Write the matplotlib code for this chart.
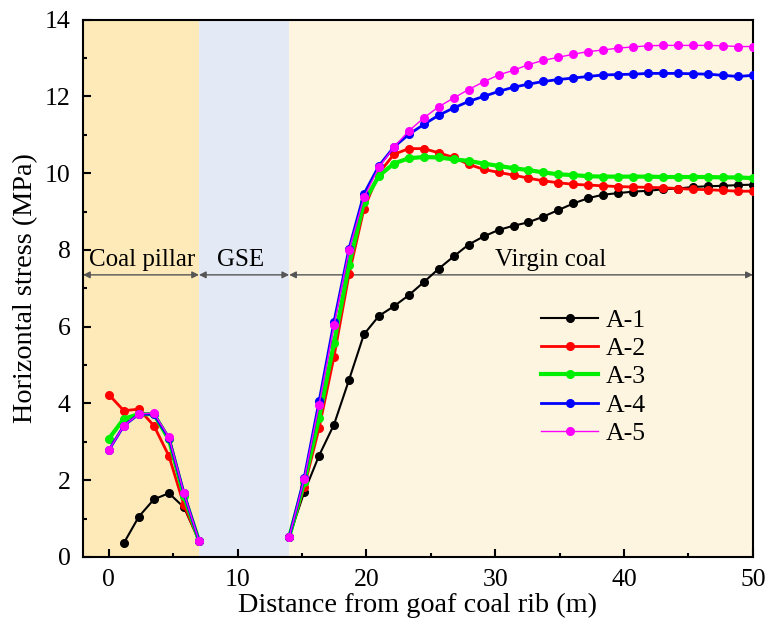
import numpy as np
import matplotlib.pyplot as plt

plt.rcParams['font.family'] = ['Liberation Serif', 'DejaVu Serif']
plt.rcParams['mathtext.fontset'] = 'stix'

# Datos leidos de la figura
# pilar de carbon (0 - 7 m)
x_pilar = np.linspace(0, 7, 7)
pilar = {
    'A-1': [np.nan, 0.36, 1.05, 1.50, 1.66, 1.29, 0.42],
    'A-2': [4.23, 3.81, 3.85, 3.42, 2.63, 1.35, 0.42],
    'A-3': [3.08, 3.60, 3.72, 3.72, 3.06, 1.59, 0.42],
    'A-4': [2.78, 3.42, 3.72, 3.72, 3.10, 1.66, 0.42],
    'A-5': [2.78, 3.42, 3.72, 3.75, 3.12, 1.66, 0.42],
}

# carbon virgen (14 - 50 m)
x_virgen = np.linspace(14, 50, 32)
virgen = {
    'A-1': [0.51, 1.68, 2.64, 3.45, 4.61, 5.80, 6.28, 6.53, 6.82, 7.16, 7.51,
            7.83, 8.14, 8.35, 8.52, 8.63, 8.72, 8.87, 9.04, 9.21, 9.35, 9.44,
            9.48, 9.52, 9.54, 9.58, 9.60, 9.64, 9.66, 9.67, 9.69, 9.70],
    'A-2': [0.51, 1.81, 3.36, 5.22, 7.36, 9.07, 10.00, 10.49, 10.64, 10.64,
            10.53, 10.41, 10.23, 10.10, 10.02, 9.95, 9.87, 9.80, 9.75, 9.71,
            9.69, 9.67, 9.65, 9.64, 9.63, 9.62, 9.60, 9.58, 9.57, 9.55, 9.53,
            9.53],
    'A-3': [0.51, 1.94, 3.62, 5.57, 7.60, 9.24, 9.93, 10.25, 10.39, 10.42,
            10.41, 10.36, 10.32, 10.25, 10.19, 10.13, 10.08, 10.02, 9.97, 9.95,
            9.92, 9.91, 9.91, 9.91, 9.91, 9.90, 9.90, 9.90, 9.90, 9.89, 9.89,
            9.87],
    'A-4': [0.51, 2.05, 4.05, 6.13, 8.03, 9.46, 10.19, 10.68, 11.01, 11.27,
            11.51, 11.70, 11.87, 12.00, 12.13, 12.24, 12.32, 12.39, 12.44,
            12.48, 12.52, 12.56, 12.57, 12.58, 12.60, 12.60, 12.60, 12.59,
            12.58, 12.55, 12.52, 12.55],
    'A-5': [0.51, 2.02, 3.97, 6.04, 7.99, 9.37, 10.15, 10.68, 11.10, 11.44,
            11.73, 11.96, 12.18, 12.38, 12.56, 12.68, 12.83, 12.94, 13.02,
            13.10, 13.17, 13.21, 13.26, 13.29, 13.32, 13.33, 13.33, 13.33,
            13.33, 13.32, 13.30, 13.30],
}

series = ['A-1', 'A-2', 'A-3', 'A-4', 'A-5']
colores = {'A-1': 'black', 'A-2': '#FF0000', 'A-3': '#00EE00',
           'A-4': '#0000FF', 'A-5': '#FF00FF'}
grosor = {'A-1': 1.5, 'A-2': 2.0, 'A-3': 3.0, 'A-4': 2.0, 'A-5': 1.0}

fig = plt.figure(figsize=(7.69, 6.35), dpi=100)
ax = fig.add_axes([0.108, 0.123, 0.871, 0.846])

# Zonas de fondo
ax.axvspan(-2, 7, color='#FDEAB8', zorder=0, lw=0)
ax.axvspan(7, 14, color='#E4EAF5', zorder=0, lw=0)
ax.axvspan(14, 50, color='#FDF5E0', zorder=0, lw=0)

for s in series:
    ax.plot(x_pilar, pilar[s], color=colores[s], lw=grosor[s], marker='o',
            markersize=5.5, zorder=3)
    ax.plot(x_virgen, virgen[s], color=colores[s], lw=grosor[s], marker='o',
            markersize=5.5, label=s, zorder=3)

# Flechas de zonas
y_flecha = 7.35
for x0, x1 in [(-2, 7), (7, 14), (14, 50)]:
    ax.annotate('', xy=(x1, y_flecha), xytext=(x0, y_flecha),
                arrowprops=dict(arrowstyle='<|-|>', color='#555555', lw=1,
                                mutation_scale=10, shrinkA=0, shrinkB=0),
                zorder=2)
ax.text(2.57, 7.45, 'Coal pillar', ha='center', va='bottom', fontsize=18)
ax.text(10.2, 7.45, 'GSE', ha='center', va='bottom', fontsize=18)
ax.text(34.3, 7.45, 'Virgin coal', ha='center', va='bottom', fontsize=18)

ax.set_xlim(-2, 50)
ax.set_ylim(0, 14)
ax.set_xticks([0, 10, 20, 30, 40, 50])
ax.set_xticks(np.arange(5, 50, 10), minor=True)
ax.set_yticks(np.arange(0, 15, 2))
ax.set_yticks(np.arange(1, 14, 2), minor=True)
ax.tick_params(axis='both', which='major', direction='in', length=6,
               width=1.5, labelsize=18.5, top=False, right=False, pad=9)
ax.tick_params(axis='both', which='minor', direction='in', length=3,
               width=1.5, top=False, right=False)
for sp in ax.spines.values():
    sp.set_linewidth(1.5)

ax.set_xlabel('Distance from goaf coal rib (m)', fontsize=20.3, labelpad=1)
ax.set_ylabel('Horizontal stress (MPa)', fontsize=20.3, labelpad=5)

ax.legend(loc='center', bbox_to_anchor=(0.762, 0.335), frameon=False,
          fontsize=18.5, handlelength=2.25, handletextpad=0.3,
          labelspacing=0.2, borderpad=0)

plt.savefig('out.png', dpi=100)
